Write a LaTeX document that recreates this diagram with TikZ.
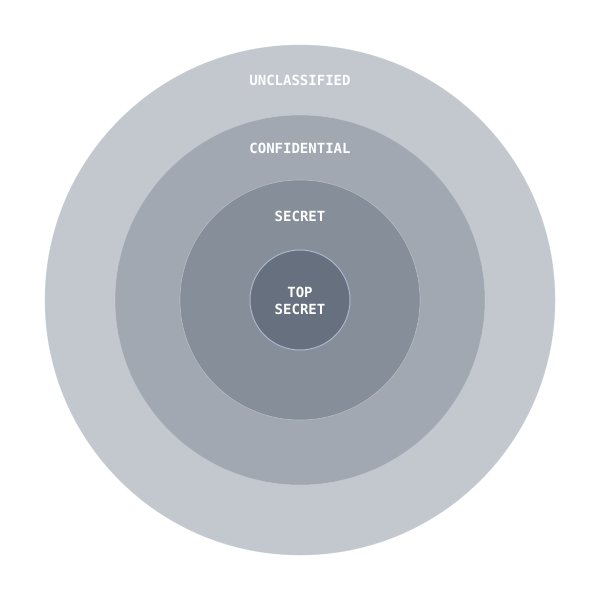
\documentclass[tikz,border=0pt]{standalone}
\usepackage{fontspec}
\setmonofont{DejaVu Sans Mono}
\definecolor{cUnc}{HTML}{C3C7CE}
\definecolor{cConf}{HTML}{A1A8B1}
\definecolor{cSec}{HTML}{868F99}
\definecolor{cTop}{HTML}{66707E}
\definecolor{cRing}{HTML}{C8D0DA}
\definecolor{cTopRing}{HTML}{A8B8CC}
\tikzset{
  ring/.style={circle, draw=cRing, draw opacity=0.6, line width=0.6pt, inner sep=0pt},
  lbl/.style={text=white, font=\ttfamily\bfseries\fontsize{14}{17}\selectfont, align=center, inner sep=0pt}
}
\begin{document}
\begin{tikzpicture}[x=1pt,y=-1pt]
\useasboundingbox[fill=white] (0,0) rectangle (600,600);
\node[ring, fill=cUnc, minimum size=510pt] (unc) at (300,300) {};
\node[ring, fill=cConf, minimum size=370pt] (conf) at (300,300) {};
\node[ring, fill=cSec, minimum size=240pt] (sec) at (300,300) {};
\node[circle, draw=cTopRing, line width=1pt, fill=cTop, minimum size=100pt, inner sep=0pt] (top) at (300,300) {};
\node[lbl] (tunc) at (300,80) {UNCLASSIFIED};
\node[lbl] (tconf) at (300,148) {CONFIDENTIAL};
\node[lbl] (tsec) at (300,216) {SECRET};
\node[lbl] (ttop) at (300,300.5) {TOP\\SECRET};
\end{tikzpicture}
\end{document}
